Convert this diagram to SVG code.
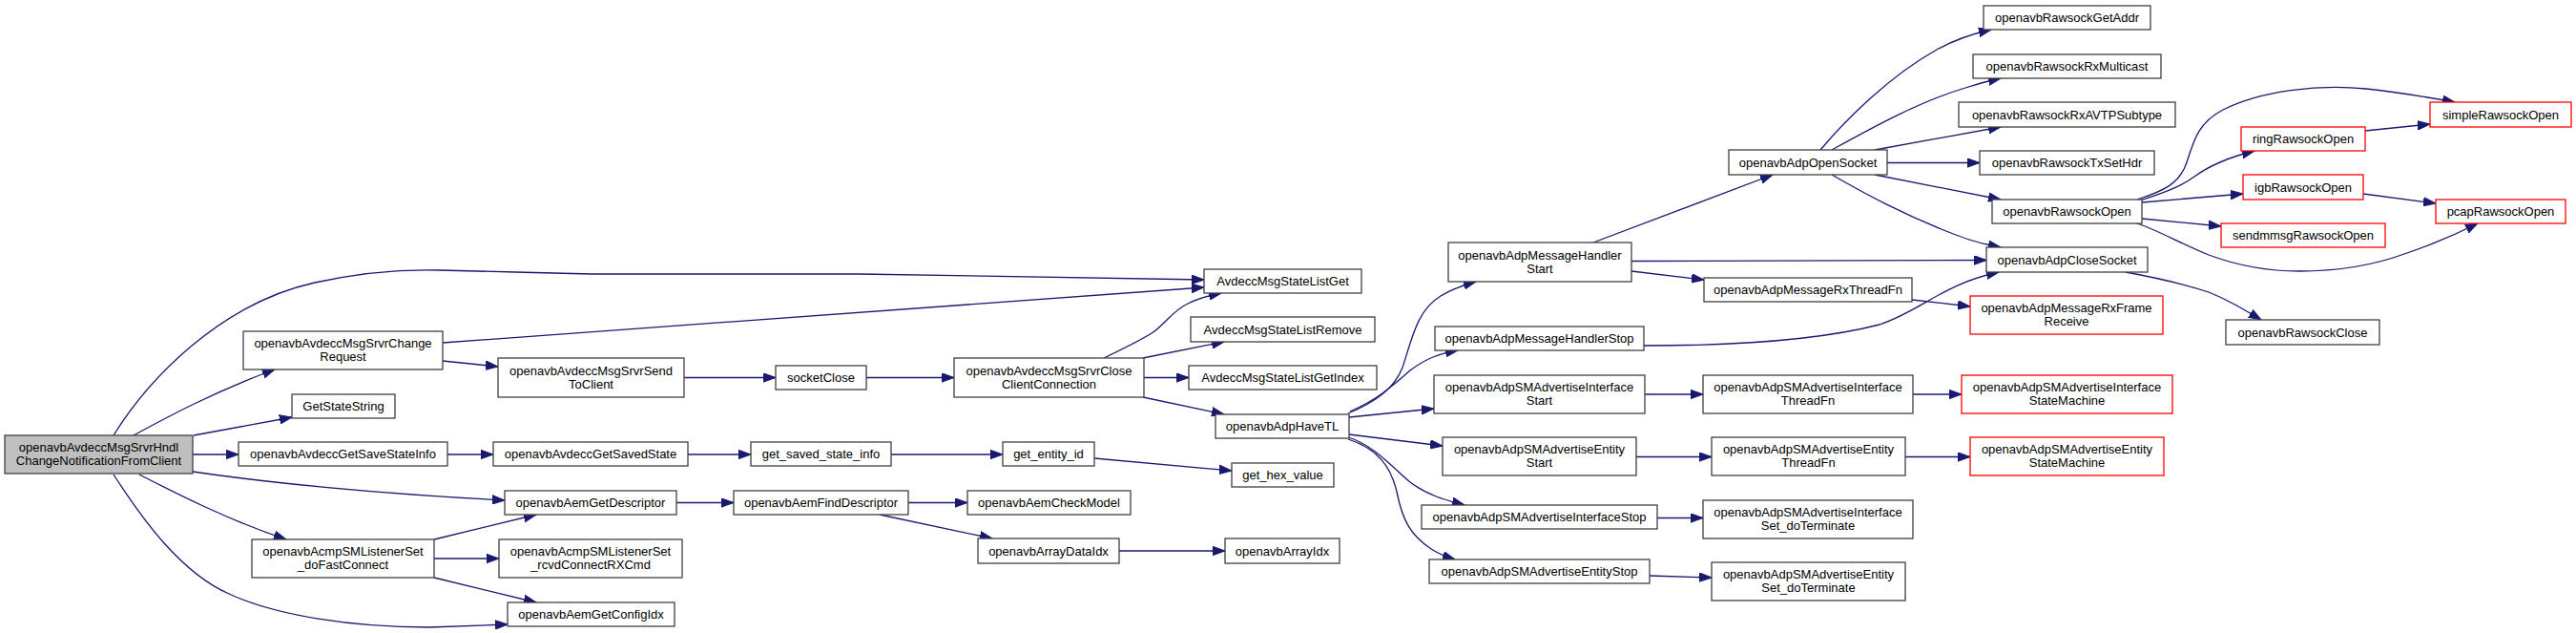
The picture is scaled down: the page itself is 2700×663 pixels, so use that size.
<svg xmlns="http://www.w3.org/2000/svg" width="2700" height="663" viewBox="0 0 2700 663">
<style>
.n rect{fill:#fff;stroke:#404040;stroke-width:1.3}
.r rect{fill:#fff;stroke:#ff0000;stroke-width:1.3}
.root rect{fill:#bfbfbf;stroke:#404040;stroke-width:1.3}
text{font-family:"Liberation Sans",Arial,Helvetica,sans-serif;font-size:13px;text-anchor:middle;fill:#000}
.e path{fill:none;stroke:#191970;stroke-width:1.3;marker-end:url(#ah)}
</style>
<defs>
<marker id="ah" markerUnits="userSpaceOnUse" markerWidth="14" markerHeight="10" refX="13" refY="5" orient="auto" viewBox="0 0 14 10"><path d="M0,0.3 L13,5 L0,9.7 z" fill="#191970" stroke="#191970" stroke-width="1"/></marker>
</defs>
<rect width="2700" height="663" fill="#fff"/>
<g id="edges" class="e">
<path d="M119,456 C155,398 230,318 330,296 C380,285 420,282 460,283 C520,284 560,286 620,287 L900,287 L1262,293"/>
<path d="M140,456 C175,437 225,410 288,387"/>
<path d="M203,456 L306,437"/>
<path d="M202,476 L250,476"/>
<path d="M202,494 C290,507 400,517 529,524"/>
<path d="M146,497 C185,517 240,545 300,565"/>
<path d="M119,497 C150,545 190,600 240,622 C290,645 370,657 450,657 L532,654"/>
<path d="M464,359 L1262,301"/>
<path d="M464,378 L522,384"/>
<path d="M717,395.5 L813,395.5"/>
<path d="M908,395.5 L1000,395.5"/>
<path d="M1157,375 C1180,364 1200,354 1210,347 C1222,338 1230,325 1245,318 C1255,313 1265,310 1280,307"/>
<path d="M1198,375 L1283,358"/>
<path d="M1199,395.5 L1246,395.5"/>
<path d="M1198,416 L1283,434"/>
<path d="M469,476 L517,476"/>
<path d="M721,476 L787,476"/>
<path d="M934,476 L1051,476"/>
<path d="M1147,480 L1291,493"/>
<path d="M709,526.5 L769,526.5"/>
<path d="M952,526.5 L1014,526.5"/>
<path d="M922,539 L1040,564"/>
<path d="M1173,577 L1284,577"/>
<path d="M455,565 L562,539"/>
<path d="M455,585 L523,585"/>
<path d="M455,605 L562,631"/>
<path d="M1413,433 C1445,420 1462,405 1470,385 C1480,355 1485,325 1510,310 C1520,304 1532,299 1547,295"/>
<path d="M1415,431 C1445,418 1462,402 1478,388 C1495,375 1510,370 1528,367"/>
<path d="M1414,437 L1503,428"/>
<path d="M1414,455 L1512,467"/>
<path d="M1413,458 C1440,466 1460,490 1478,505 C1495,518 1515,524 1535,529"/>
<path d="M1413,460 C1445,470 1458,490 1464,515 C1470,545 1478,560 1500,575 C1508,580 1515,583 1525,586"/>
<path d="M1670,254 L1858,183"/>
<path d="M1710,273.5 L2082,272.5"/>
<path d="M1710,284 L1786,293"/>
<path d="M1723,362 C1800,362 1900,358 1970,340 C2015,325 2035,298 2095,285"/>
<path d="M1724,413 L1785,413"/>
<path d="M1715,478.5 L1794,478.5"/>
<path d="M1737,542.5 L1785,542.5"/>
<path d="M1729,603 L1794,605"/>
<path d="M2005,413 L2056,413"/>
<path d="M1997,478.5 L2065,478.5"/>
<path d="M2004,314 L2065,321"/>
<path d="M1908,157 C1935,125 1980,80 2030,52 C2048,42 2065,36 2087,31"/>
<path d="M1920,157 C1960,135 2010,107 2060,92 C2072,88 2083,85 2097,82"/>
<path d="M1965,157 L2097,133"/>
<path d="M1978,170.5 L2075,170.5"/>
<path d="M1965,183 L2097,209"/>
<path d="M1920,183 C1955,203 1995,225 2050,246 C2065,252 2080,256 2097,259"/>
<path d="M2240,209 C2268,200 2285,192 2292,170 C2300,145 2305,128 2330,115 C2370,95 2430,88 2480,93 C2510,96 2540,101 2573,107"/>
<path d="M2240,211 C2265,203 2285,196 2300,185 C2315,174 2335,165 2363,158"/>
<path d="M2245,212 L2351,203"/>
<path d="M2245,229 L2328,237"/>
<path d="M2237,233 C2260,240 2285,255 2315,267 C2350,280 2380,284 2410,284 C2450,284 2490,277 2520,266 C2550,256 2575,245 2597,234"/>
<path d="M2479,137 L2547,130"/>
<path d="M2477,203 L2553,213"/>
<path d="M2228,285 C2255,290 2285,296 2315,306 C2335,314 2350,323 2370,335"/>
</g>
<g id="n0" class="root"><rect x="5" y="456" width="197" height="40"/><text x="103.5" y="473">openavbAvdeccMsgSrvrHndl</text><text x="103.5" y="487">ChangeNotificationFromClient</text></g>
<g id="n1" class="n"><rect x="1262" y="282" width="165" height="25"/><text x="1344.5" y="299">AvdeccMsgStateListGet</text></g>
<g id="n2" class="n"><rect x="255" y="347" width="209" height="40"/><text x="359.5" y="364">openavbAvdeccMsgSrvrChange</text><text x="359.5" y="378">Request</text></g>
<g id="n3" class="n"><rect x="306" y="413" width="108" height="25"/><text x="360" y="430">GetStateString</text></g>
<g id="n4" class="n"><rect x="250" y="463" width="219" height="25"/><text x="359.5" y="480">openavbAvdeccGetSaveStateInfo</text></g>
<g id="n5" class="n"><rect x="529" y="514" width="180" height="25"/><text x="619" y="531">openavbAemGetDescriptor</text></g>
<g id="n6" class="n"><rect x="264" y="565" width="191" height="40"/><text x="359.5" y="582">openavbAcmpSMListenerSet</text><text x="359.5" y="596">_doFastConnect</text></g>
<g id="n7" class="n"><rect x="532" y="631" width="175" height="25"/><text x="619.5" y="648">openavbAemGetConfigIdx</text></g>
<g id="n8" class="n"><rect x="522" y="375" width="195" height="41"/><text x="619.5" y="392.5">openavbAvdeccMsgSrvrSend</text><text x="619.5" y="406.5">ToClient</text></g>
<g id="n9" class="n"><rect x="813" y="383" width="95" height="25"/><text x="860.5" y="400">socketClose</text></g>
<g id="n10" class="n"><rect x="1000" y="375" width="199" height="41"/><text x="1099.5" y="392.5">openavbAvdeccMsgSrvrClose</text><text x="1099.5" y="406.5">ClientConnection</text></g>
<g id="n11" class="n"><rect x="1248" y="332" width="193" height="26"/><text x="1344.5" y="349.5">AvdeccMsgStateListRemove</text></g>
<g id="n12" class="n"><rect x="1246" y="383" width="197" height="25"/><text x="1344.5" y="400">AvdeccMsgStateListGetIndex</text></g>
<g id="n13" class="n"><rect x="1274" y="434" width="140" height="25"/><text x="1344" y="451">openavbAdpHaveTL</text></g>
<g id="n14" class="n"><rect x="517" y="463" width="204" height="25"/><text x="619" y="480">openavbAvdeccGetSavedState</text></g>
<g id="n15" class="n"><rect x="787" y="463" width="147" height="25"/><text x="860.5" y="480">get_saved_state_info</text></g>
<g id="n16" class="n"><rect x="1051" y="463" width="96" height="25"/><text x="1099" y="480">get_entity_id</text></g>
<g id="n17" class="n"><rect x="1291" y="485" width="107" height="25"/><text x="1344.5" y="502">get_hex_value</text></g>
<g id="n18" class="n"><rect x="769" y="514" width="183" height="25"/><text x="860.5" y="531">openavbAemFindDescriptor</text></g>
<g id="n19" class="n"><rect x="1014" y="514" width="171" height="25"/><text x="1099.5" y="531">openavbAemCheckModel</text></g>
<g id="n20" class="n"><rect x="1025" y="564" width="148" height="26"/><text x="1099" y="581.5">openavbArrayDataIdx</text></g>
<g id="n21" class="n"><rect x="1284" y="564" width="120" height="26"/><text x="1344" y="581.5">openavbArrayIdx</text></g>
<g id="n22" class="n"><rect x="523" y="565" width="192" height="40"/><text x="619" y="582">openavbAcmpSMListenerSet</text><text x="619" y="596">_rcvdConnectRXCmd</text></g>
<g id="n23" class="n"><rect x="1518" y="254" width="192" height="41"/><text x="1614" y="271.5">openavbAdpMessageHandler</text><text x="1614" y="285.5">Start</text></g>
<g id="n24" class="n"><rect x="1504" y="342" width="219" height="25"/><text x="1613.5" y="359">openavbAdpMessageHandlerStop</text></g>
<g id="n25" class="n"><rect x="1503" y="393" width="221" height="40"/><text x="1613.5" y="410">openavbAdpSMAdvertiseInterface</text><text x="1613.5" y="424">Start</text></g>
<g id="n26" class="n"><rect x="1512" y="458" width="203" height="40"/><text x="1613.5" y="475">openavbAdpSMAdvertiseEntity</text><text x="1613.5" y="489">Start</text></g>
<g id="n27" class="n"><rect x="1490" y="529" width="247" height="25"/><text x="1613.5" y="546">openavbAdpSMAdvertiseInterfaceStop</text></g>
<g id="n28" class="n"><rect x="1498" y="586" width="231" height="25"/><text x="1613.5" y="603">openavbAdpSMAdvertiseEntityStop</text></g>
<g id="n29" class="n"><rect x="1812" y="157" width="166" height="26"/><text x="1895" y="174.5">openavbAdpOpenSocket</text></g>
<g id="n30" class="n"><rect x="1786" y="291" width="218" height="25"/><text x="1895" y="308">openavbAdpMessageRxThreadFn</text></g>
<g id="n31" class="n"><rect x="1785" y="393" width="220" height="40"/><text x="1895" y="410">openavbAdpSMAdvertiseInterface</text><text x="1895" y="424">ThreadFn</text></g>
<g id="n32" class="n"><rect x="1794" y="458" width="203" height="40"/><text x="1895.5" y="475">openavbAdpSMAdvertiseEntity</text><text x="1895.5" y="489">ThreadFn</text></g>
<g id="n33" class="n"><rect x="1785" y="524" width="220" height="40"/><text x="1895" y="541">openavbAdpSMAdvertiseInterface</text><text x="1895" y="555">Set_doTerminate</text></g>
<g id="n34" class="n"><rect x="1794" y="589" width="203" height="40"/><text x="1895.5" y="606">openavbAdpSMAdvertiseEntity</text><text x="1895.5" y="620">Set_doTerminate</text></g>
<g id="n35" class="n"><rect x="2079" y="6" width="175" height="25"/><text x="2166.5" y="23">openavbRawsockGetAddr</text></g>
<g id="n36" class="n"><rect x="2068" y="57" width="197" height="25"/><text x="2166.5" y="74">openavbRawsockRxMulticast</text></g>
<g id="n37" class="n"><rect x="2053" y="107" width="227" height="26"/><text x="2166.5" y="124.5">openavbRawsockRxAVTPSubtype</text></g>
<g id="n38" class="n"><rect x="2075" y="158" width="183" height="25"/><text x="2166.5" y="175">openavbRawsockTxSetHdr</text></g>
<g id="n39" class="n"><rect x="2088" y="209" width="157" height="25"/><text x="2166.5" y="226">openavbRawsockOpen</text></g>
<g id="n40" class="n"><rect x="2082" y="259" width="169" height="26"/><text x="2166.5" y="276.5">openavbAdpCloseSocket</text></g>
<g id="n41" class="r"><rect x="2065" y="310" width="202" height="40"/><text x="2166" y="327">openavbAdpMessageRxFrame</text><text x="2166" y="341">Receive</text></g>
<g id="n42" class="r"><rect x="2056" y="393" width="221" height="40"/><text x="2166.5" y="410">openavbAdpSMAdvertiseInterface</text><text x="2166.5" y="424">StateMachine</text></g>
<g id="n43" class="r"><rect x="2065" y="458" width="203" height="40"/><text x="2166.5" y="475">openavbAdpSMAdvertiseEntity</text><text x="2166.5" y="489">StateMachine</text></g>
<g id="n44" class="r"><rect x="2349" y="133" width="130" height="25"/><text x="2414" y="150">ringRawsockOpen</text></g>
<g id="n45" class="r"><rect x="2351" y="183" width="126" height="26"/><text x="2414" y="200.5">igbRawsockOpen</text></g>
<g id="n46" class="r"><rect x="2328" y="234" width="172" height="25"/><text x="2414" y="251">sendmmsgRawsockOpen</text></g>
<g id="n47" class="n"><rect x="2333" y="335" width="161" height="26"/><text x="2413.5" y="352.5">openavbRawsockClose</text></g>
<g id="n48" class="r"><rect x="2547" y="107" width="148" height="26"/><text x="2621" y="124.5">simpleRawsockOpen</text></g>
<g id="n49" class="r"><rect x="2553" y="209" width="136" height="25"/><text x="2621" y="226">pcapRawsockOpen</text></g>
</svg>
